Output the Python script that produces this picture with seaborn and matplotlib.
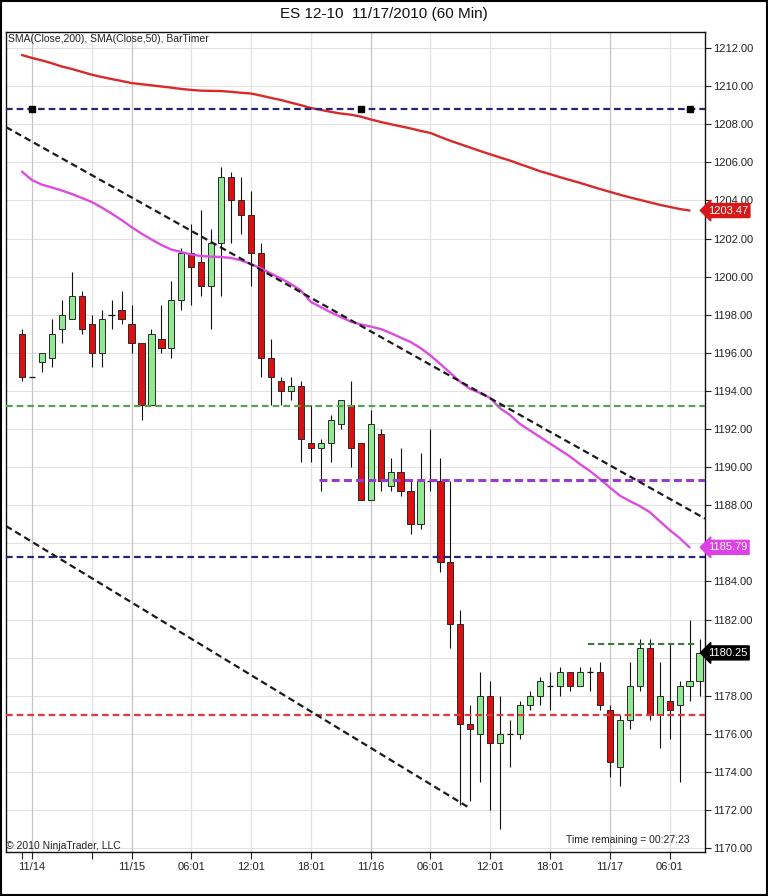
import matplotlib
matplotlib.use("Agg")
import matplotlib.pyplot as plt
import seaborn as sns
import pandas as pd
from matplotlib.patches import Rectangle

# 60 min bars, ES 12-10
opens = [1197.0, 1194.75, 1195.5, 1195.75, 1197.25, 1197.75, 1199.0, 1197.5, 1196.0, 1198.0,
         1198.25, 1197.5, 1196.5, 1193.25, 1196.75, 1196.25, 1198.75, 1201.25, 1200.75, 1199.5,
         1201.75, 1205.25, 1204.0, 1203.25, 1201.25, 1195.75, 1194.5, 1194.0, 1194.25, 1191.25,
         1191.0, 1191.25, 1192.25, 1193.25, 1191.25, 1188.25, 1191.75, 1189.0, 1189.75, 1188.75,
         1187.0, 1189.25, 1189.25, 1185.0, 1181.75, 1176.5, 1176.0, 1178.0, 1175.5, 1176.0,
         1176.0, 1177.5, 1178.0, 1178.5, 1178.5, 1179.25, 1178.5, 1179.25, 1179.25, 1177.25,
         1174.25, 1176.75, 1178.5, 1180.5, 1177.0, 1177.75, 1177.5, 1178.5, 1178.75]
highs = [1197.25, 1194.75, 1196.0, 1197.75, 1198.75, 1200.25, 1199.25, 1198.0, 1198.25, 1198.75,
         1199.25, 1198.5, 1196.5, 1197.25, 1198.5, 1199.75, 1201.5, 1202.75, 1203.5, 1202.5,
         1205.75, 1205.5, 1205.25, 1204.5, 1201.75, 1196.75, 1194.75, 1194.75, 1194.5, 1193.25,
         1191.5, 1192.75, 1193.5, 1194.5, 1191.25, 1193.0, 1192.0, 1190.5, 1191.0, 1189.25,
         1190.75, 1192.0, 1190.5, 1189.25, 1182.5, 1177.5, 1179.25, 1178.75, 1178.0, 1176.75,
         1177.75, 1178.25, 1179.0, 1179.25, 1179.5, 1179.25, 1179.5, 1179.5, 1179.75, 1177.5,
         1177.0, 1179.75, 1181.0, 1181.0, 1179.75, 1180.75, 1178.75, 1182.0, 1181.0]
lows = [1194.5, 1194.75, 1195.0, 1195.25, 1196.5, 1197.75, 1197.0, 1195.25, 1195.25, 1197.25,
        1197.5, 1196.0, 1192.5, 1193.25, 1196.0, 1195.75, 1198.25, 1198.5, 1199.0, 1197.25,
        1199.0, 1201.75, 1202.25, 1199.5, 1194.75, 1193.25, 1193.25, 1193.5, 1190.25, 1190.25,
        1188.75, 1190.25, 1192.0, 1190.0, 1188.25, 1188.25, 1188.75, 1188.75, 1188.5, 1186.5,
        1186.75, 1188.75, 1184.5, 1180.5, 1172.25, 1172.5, 1173.5, 1172.0, 1171.0, 1174.25,
        1175.75, 1177.25, 1177.5, 1177.25, 1178.0, 1178.25, 1178.5, 1178.25, 1177.25, 1173.75,
        1173.25, 1176.25, 1178.25, 1176.75, 1175.25, 1175.75, 1173.5, 1177.75, 1178.0]
closes = [1194.75, 1194.75, 1196.0, 1197.0, 1198.0, 1199.0, 1197.25, 1196.0, 1197.75, 1198.0,
          1197.75, 1196.5, 1193.25, 1197.0, 1196.25, 1198.75, 1201.25, 1200.5, 1199.5, 1201.75,
          1205.25, 1204.0, 1203.25, 1201.25, 1195.75, 1194.75, 1194.0, 1194.25, 1191.5, 1191.0,
          1191.25, 1192.5, 1193.5, 1191.0, 1188.25, 1192.25, 1189.25, 1189.75, 1188.75, 1187.0,
          1189.25, 1189.25, 1185.0, 1181.75, 1176.5, 1176.25, 1178.0, 1175.5, 1176.0, 1176.0,
          1177.5, 1178.0, 1178.75, 1178.5, 1179.25, 1178.5, 1179.25, 1179.25, 1177.5, 1174.5,
          1176.75, 1178.5, 1180.5, 1177.0, 1178.0, 1177.25, 1178.5, 1178.75, 1180.25]

# indicators (calculated on bar close -> no value on the last, open bar)
sma200 = [1211.63, 1211.48, 1211.35, 1211.2, 1211.03, 1210.9, 1210.75, 1210.6, 1210.48, 1210.37,
          1210.27, 1210.16, 1210.1, 1210.04, 1209.98, 1209.92, 1209.85, 1209.8, 1209.76, 1209.75,
          1209.74, 1209.7, 1209.65, 1209.61, 1209.5, 1209.38, 1209.27, 1209.13, 1209.0, 1208.85,
          1208.75, 1208.65, 1208.56, 1208.5, 1208.4, 1208.25, 1208.12, 1208.0, 1207.89, 1207.78,
          1207.65, 1207.54, 1207.33, 1207.13, 1206.95, 1206.77, 1206.59, 1206.42, 1206.25, 1206.09,
          1205.9, 1205.72, 1205.53, 1205.38, 1205.22, 1205.07, 1204.92, 1204.76, 1204.6, 1204.45,
          1204.3, 1204.16, 1204.03, 1203.9, 1203.77, 1203.66, 1203.55, 1203.47]
sma50 = [1205.51, 1205.07, 1204.83, 1204.68, 1204.52, 1204.34, 1204.13, 1203.92, 1203.63, 1203.31,
         1202.97, 1202.6, 1202.26, 1201.95, 1201.66, 1201.42, 1201.29, 1201.16, 1201.08, 1201.05,
         1201.03, 1200.98, 1200.85, 1200.66, 1200.43, 1200.16, 1199.9, 1199.61, 1199.27, 1198.67,
         1198.4, 1198.12, 1197.88, 1197.64, 1197.49, 1197.38, 1197.25, 1197.04, 1196.8, 1196.57,
         1196.25, 1195.86, 1195.41, 1194.94, 1194.47, 1194.1, 1193.89, 1193.63, 1193.08, 1192.73,
         1192.26, 1191.92, 1191.58, 1191.24, 1190.9, 1190.56, 1190.16, 1189.8, 1189.38, 1188.93,
         1188.51, 1188.22, 1187.96, 1187.64, 1187.17, 1186.7, 1186.28, 1185.79]

tick_bars = [1, 11, 17, 23, 29, 35, 41, 47, 53, 59, 65]
tick_labels = ["11/14", "11/15", "06:01", "12:01", "18:01", "11/16", "06:01", "12:01", "18:01", "11/17", "06:01"]
day_bars = [1, 11, 35, 59]
extra_ticks = [0, 7]
price_ticks = list(range(1170, 1213, 2))
hidden_price_labels = [1180, 1186]   # covered by the last-value markers

# drawing objects
full_levels = [1208.78, 1193.22, 1185.3, 1177.0]
full_colors = ["#262678", "#54a254", "#262678", "#e03a3a"]
navy_anchor_bars = [1, 34, 67]
purple_level = 1189.35
purple_start = 29.8
short_green_level = 1180.72
short_green_bars = [56.8, 67.8]
trend_up_x = [-1.6, 68.55]
trend_up_y = [1207.85, 1187.3]
trend_lo_x = [-1.6, 44.95]
trend_lo_y = [1186.91, 1172.1]

sns.set_style("white")
plt.rcParams['font.family'] = ['Liberation Sans', 'DejaVu Sans']

fig = plt.figure(figsize=(7.68, 8.96), dpi=100)
ax = fig.add_axes([6 / 768, 44 / 896, 699 / 768, 820 / 896])
ax.set_xlim(-1.6, 68.55)
ax.set_ylim(1169.8, 1212.84)

# grid
for p in price_ticks:
    ax.axhline(p, color="#e2e2e2", lw=0.8, zorder=0)
for b in tick_bars + [7]:
    ax.axvline(b, color="#c4c4c4" if b in day_bars else "#e2e2e2", lw=0.9, zorder=0)

# candles
bars = list(range(len(opens)))
for i in bars:
    o, h, l, c = opens[i], highs[i], lows[i], closes[i]
    ax.vlines(i, l, h, color="#111111", lw=0.8, zorder=2)
    if c == o:
        ax.hlines(o, i - 0.32, i + 0.32, color="#111111", lw=0.9, zorder=3)
    else:
        fill = "#90e890" if c > o else "#dc1010"
        ax.bar(i, abs(c - o), bottom=min(o, c), width=0.62, color=fill,
               edgecolor="#2a2a2a", linewidth=0.7, zorder=3)

# SMAs
df_sma = pd.DataFrame({"bar": bars[:len(sma200)], "sma200": sma200, "sma50": sma50})
sns.lineplot(data=df_sma, x="bar", y="sma200", ax=ax, color="#d82a2a", lw=1.7, zorder=4)
sns.lineplot(data=df_sma, x="bar", y="sma50", ax=ax, color="#dc4ce0", lw=1.7, zorder=4)
ax.set_xlabel("")
ax.set_ylabel("")

# drawn lines
for lev, col in zip(full_levels, full_colors):
    ax.axhline(lev, color=col, lw=1.6, dashes=(3, 1.8), zorder=5)
ax.plot(navy_anchor_bars, [full_levels[0]] * 3, "s", color="black", ms=4, zorder=6)
ax.plot([purple_start, 68.55], [purple_level] * 2, color="#9a3ad0", lw=2.2, dashes=(2.6, 1.4), zorder=5)
ax.plot(short_green_bars, [short_green_level] * 2, color="#3c7a3c", lw=1.5, dashes=(3, 1.8), zorder=5)
ax.plot(trend_up_x, trend_up_y, color="#1a1a1a", lw=1.6, dashes=(3, 1.8), zorder=5)
ax.plot(trend_lo_x, trend_lo_y, color="#1a1a1a", lw=1.6, dashes=(3, 1.8), zorder=5)

# axes
ax.set_xticks(tick_bars)
ax.set_xticklabels(tick_labels)
ax.set_xticks(extra_ticks, minor=True)
ax.set_yticks(price_ticks)
ax.set_yticklabels(["" if p in hidden_price_labels else f"{p}.00" for p in price_ticks])
ax.yaxis.tick_right()
ax.tick_params(axis="both", which="both", direction="out", colors="#222222",
               labelsize=8, length=4, width=0.8, pad=2)
ax.tick_params(axis="x", which="both", bottom=True, length=5)
for s in ax.spines.values():
    s.set_color("#111111")
    s.set_linewidth(1.0)
    s.set_visible(True)

# last value markers
ytr = ax.get_yaxis_transform()
for val, col in [(1203.47, "#d81818"), (1185.79, "#e040e8"), (1180.25, "#000000")]:
    ax.text(1.004, val, f"{val:.2f}", transform=ytr, ha="left", va="center",
            fontsize=8, color="white", zorder=10, clip_on=False,
            bbox=dict(boxstyle="larrow,pad=0.18", fc=col, ec=col))

# texts
fig.text(0.5, 1 - 14 / 896, "ES 12-10  11/17/2010 (60 Min)", ha="center", va="center",
         fontsize=11, color="#111111")
fig.text(8 / 768, 1 - 39 / 896, "SMA(Close,200), SMA(Close,50), BarTimer", ha="left",
         va="center", fontsize=7.5, color="#222222")
fig.text(6 / 768, 1 - 846 / 896, "\u00a9 2010 NinjaTrader, LLC", ha="left", va="center",
         fontsize=7.5, color="#222222")
fig.text(690 / 768, 1 - 840 / 896, "Time remaining = 00:27:23", ha="right", va="center",
         fontsize=7.5, color="#222222")

fig.patches.append(Rectangle((0.001, 0.001), 0.998, 0.998, transform=fig.transFigure,
                             fill=False, edgecolor="black", lw=1.5))

fig.savefig("out.png", dpi=100)
